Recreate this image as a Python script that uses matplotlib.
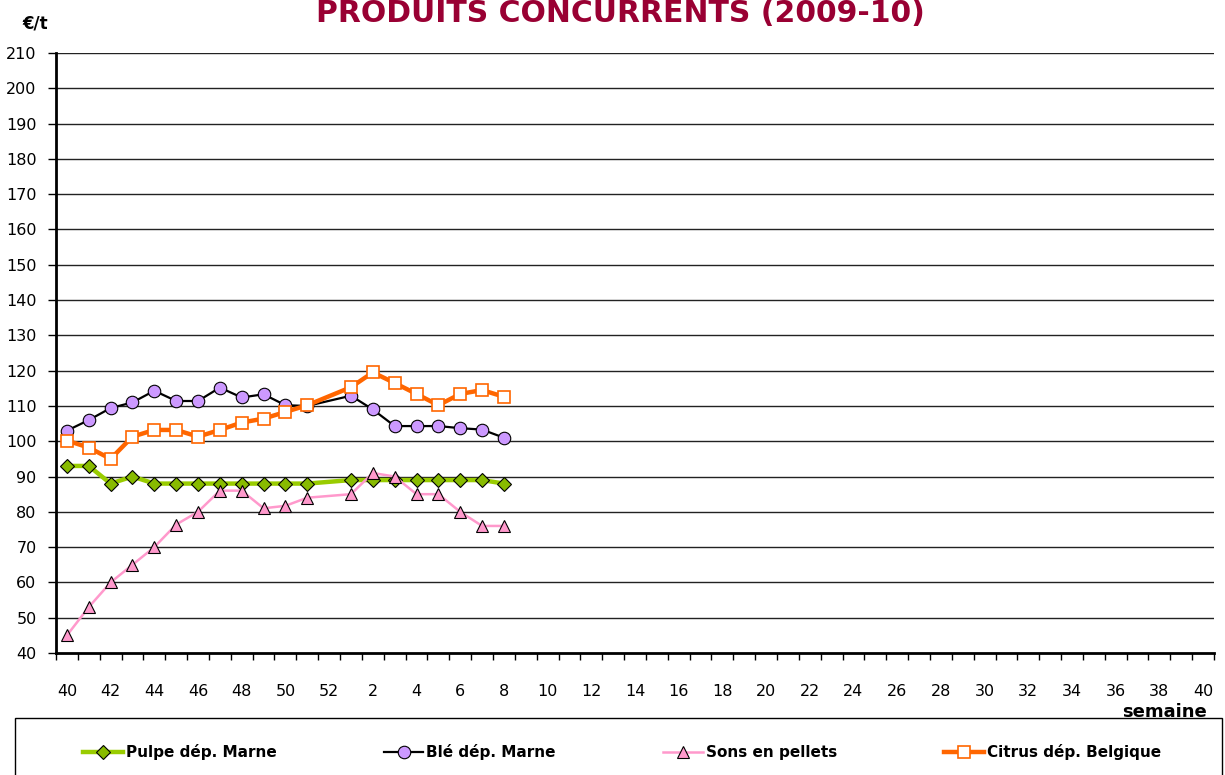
import numpy as np
import matplotlib
matplotlib.use("Agg")
import matplotlib.pyplot as plt
from matplotlib.patches import Rectangle

# categories: weeks 40..52 then 1..40
weeks = list(range(40, 53)) + list(range(1, 41))
tick_labels = [str(w) if i % 2 == 0 else "" for i, w in enumerate(weeks)]

# data from week 40 to week 8 (week 52 missing)
pulpe = [93, 93, 88, 90, 88, 88, 88, 88, 88, 88, 88, 88, None, 89, 89, 89, 89, 89, 89, 89, 88]
ble = [103, 106, 109.4, 111, 114.3, 111.4, 111.4, 115.2, 112.4, 113.3, 110.2, 110, None,
       112.9, 109, 104.3, 104.3, 104.3, 103.7, 103.3, 101]
sons = [45, 53, 60, 65, 70, 76.4, 80, 86, 86, 81, 81.7, 84, None, 85, 91, 90, 85, 85, 80, 76, 76]
citrus = [100.2, 98.2, 95, 101.3, 103.2, 103.2, 101.3, 103.2, 105.3, 106.4, 108.3, 110.2, None,
          115.3, 119.5, 116.5, 113.4, 110.2, 113.4, 114.5, 112.6]

series_names = ["Pulpe dép. Marne", "Blé dép. Marne", "Sons en pellets", "Citrus dép. Belgique"]

W, H = 1225, 775
fig = plt.figure(figsize=(W / 100, H / 100), dpi=100)
L, R, T, B = 56, 1214, 53, 653
ax = fig.add_axes([L / W, 1 - B / H, (R - L) / W, (B - T) / H])

def xy(vals):
    idx = np.array([i for i, v in enumerate(vals) if v is not None])
    v = np.array([v for v in vals if v is not None], dtype=float)
    return idx, v

styles = [
    dict(color="#99CC00", lw=3.2, marker="D", ms=7.5, mfc="#88BB00", mec="black", mew=0.8),
    dict(color="black", lw=1.6, marker="o", ms=9, mfc="#CC99FF", mec="black", mew=0.8),
    dict(color="#FF99CC", lw=1.8, marker="^", ms=9, mfc="#FF99CC", mec="black", mew=0.8),
    dict(color="#FF6600", lw=3.2, marker="s", ms=8, mfc="white", mec="#FF6600", mew=1.2),
]
handles = []
for vals, name, st, z in zip([pulpe, ble, sons, citrus], series_names, styles, [3, 4, 5, 6]):
    x, y = xy(vals)
    h, = ax.plot(x, y, label=name, zorder=z, clip_on=False, **st)
    handles.append(h)

ax.set_xlim(-0.5, len(weeks) - 0.5)
ax.set_ylim(40, 210)
ax.set_yticks(np.arange(40, 211, 10))
for yv in np.arange(50, 211, 10):
    ax.axhline(yv, color="#222222", lw=1.0, zorder=1)

ax.set_xticks(np.arange(len(weeks)))
ax.set_xticklabels(tick_labels, fontsize=11.5)
ax.set_xticks(np.arange(-0.5, len(weeks)), minor=True)
ax.tick_params(axis="x", which="major", length=0, pad=22)
ax.tick_params(axis="x", which="minor", length=5, width=1, direction="out")
ax.tick_params(axis="y", labelsize=11.5, length=6, width=1, pad=8)

for s in ["top", "right"]:
    ax.spines[s].set_visible(False)
ax.spines["left"].set_linewidth(2)
ax.spines["bottom"].set_linewidth(2)

fig.text(620 / W, 1 - 13 / H, "PRODUITS CONCURRENTS (2009-10)", ha="center", va="center",
         fontsize=21.5, fontweight="bold", color="#990033")
fig.text(35 / W, 1 - 24 / H, "€/t", ha="center", va="center", fontsize=12, fontweight="bold")
fig.text(1207 / W, 1 - 712 / H, "semaine", ha="right", va="center", fontsize=13, fontweight="bold")

fig.patches.append(Rectangle((15 / W, -0.05), 1207 / W, (775 - 718) / H + 0.05,
                             transform=fig.transFigure, fill=False, ec="black", lw=1))
leg = fig.legend(handles=handles, loc="center", bbox_to_anchor=(622 / W, 1 - 752 / H),
                 ncol=4, frameon=False, prop=dict(size=11, weight="bold"),
                 handlelength=2.6, handletextpad=0.2, columnspacing=7.0)

fig.savefig("out.png", dpi=100)
